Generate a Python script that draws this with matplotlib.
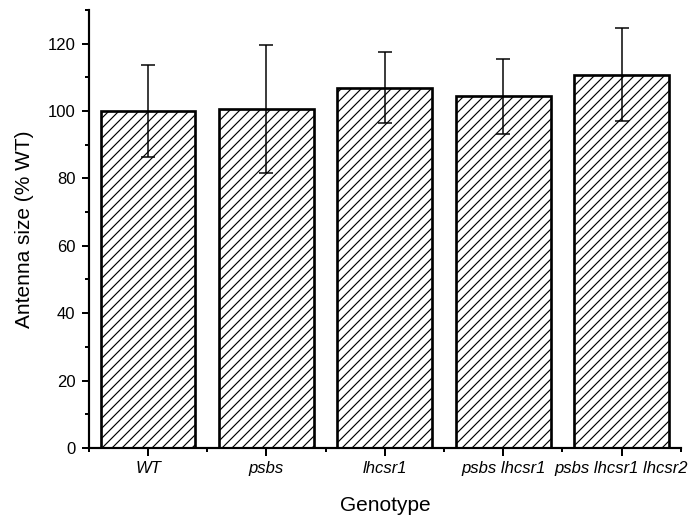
import matplotlib

matplotlib.use("Agg")
import matplotlib.pyplot as plt
from matplotlib.ticker import MultipleLocator, FixedLocator

genotypes = ["WT", "psbs", "lhcsr1", "psbs lhcsr1", "psbs lhcsr1 lhcsr2"]
antenna_size = [100.0, 100.6, 106.9, 104.4, 110.8]
antenna_err = [13.7, 19.0, 10.5, 11.1, 13.9]

plt.rcParams["font.family"] = ["Liberation Sans", "DejaVu Sans"]
plt.rcParams["hatch.linewidth"] = 0.7

fig = plt.figure(figsize=(694 / 120, 517 / 120), dpi=120)
ax = fig.add_axes([0.128, 0.1335, 0.853, 0.8475])

xs = list(range(1, len(genotypes) + 1))
ax.bar(xs, antenna_size, width=0.8, facecolor="white", edgecolor="black",
       linewidth=1.6, hatch="////", zorder=2)
ax.errorbar(xs, antenna_size, yerr=antenna_err, fmt="none", ecolor="black",
            elinewidth=0.9, capsize=4, capthick=0.9, zorder=3)

ax.set_xlim(0.5, 5.5)
ax.set_ylim(0, 130)

for side in ("top", "right"):
    ax.spines[side].set_visible(False)
for side in ("left", "bottom"):
    ax.spines[side].set_linewidth(1.3)

ax.set_xticks(xs)
ax.set_xticklabels(genotypes, fontstyle="italic", fontsize=10)
ax.xaxis.set_minor_locator(FixedLocator([x + 0.5 for x in range(0, 6)]))
ax.yaxis.set_major_locator(MultipleLocator(20))
ax.yaxis.set_minor_locator(MultipleLocator(10))
ax.tick_params(axis="both", which="major", direction="out", length=4.5, width=1.2, labelsize=10)
ax.tick_params(axis="both", which="minor", direction="out", length=2.5, width=1.2)

ax.set_xlabel("Genotype", fontsize=12.5, labelpad=12)
ax.set_ylabel("Antenna size (% WT)", fontsize=12.5, labelpad=8)

fig.savefig("out.png", dpi=120)
